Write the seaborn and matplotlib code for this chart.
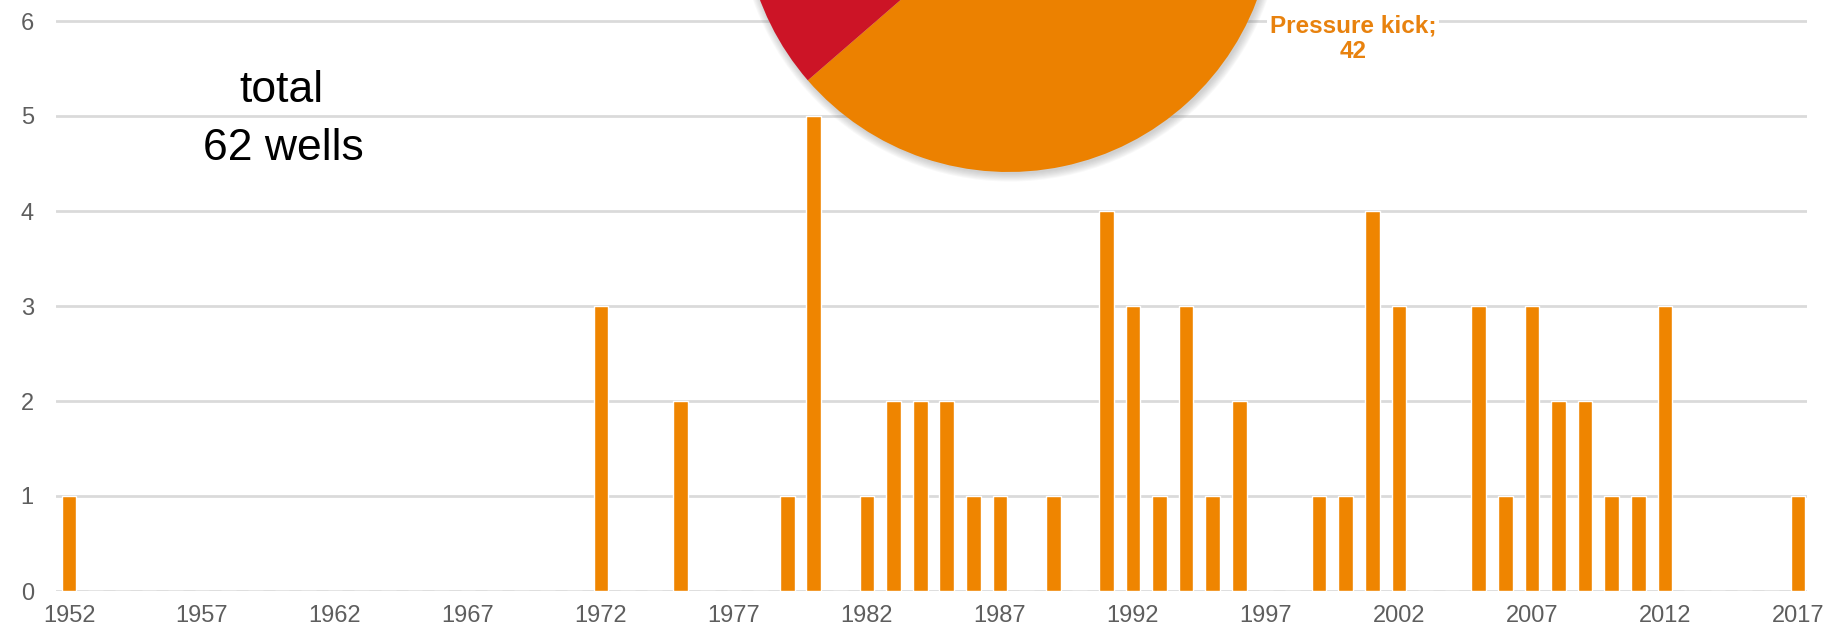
import pandas as pd
import seaborn as sns
import numpy as np
import matplotlib.pyplot as plt
from matplotlib.patches import Circle

# wells per year (years without events are zero)
years = [1952, 1972, 1975, 1979, 1980, 1982, 1983, 1984, 1985, 1986, 1987, 1989,
         1991, 1992, 1993, 1994, 1995, 1996, 1999, 2000, 2001, 2002,
         2005, 2006, 2007, 2008, 2009, 2010, 2011, 2012, 2017]
wells = [1, 3, 2, 1, 5, 1, 2, 2, 2, 1, 1, 1,
         4, 3, 1, 3, 1, 2, 1, 1, 4, 3,
         3, 1, 3, 2, 2, 1, 1, 3, 1]
all_years = list(range(1952, 2018))

# cause split shown in the pie
causes = ['Pressure kick', 'Other']
cause_counts = [42, 20]

sns.set_theme(style='white')
plt.rcParams['font.family'] = ['Liberation Sans', 'DejaVu Sans']

df = (pd.DataFrame({'year': years, 'wells': wells})
      .set_index('year').reindex(all_years, fill_value=0).reset_index())

W, H = 1836, 642
fig = plt.figure(figsize=(W / 100, H / 100), dpi=100)
ax = fig.add_axes([56 / W, 51 / H, (1807 - 56) / W, 574.75 / H])

sns.barplot(data=df, x='year', y='wells', order=all_years, color='#EF8500',
            saturation=1, width=0.55, ax=ax)
ax.set_xlim(-0.49, len(all_years) - 1 + 0.34)
ax.set_ylim(0, 6.05)
ax.set_yticks(range(0, 7))
ax.set_xticks(range(0, len(all_years), 5))
ax.set_xticklabels(all_years[::5])
ax.yaxis.grid(True, color='#DADADA', lw=2)
ax.set_axisbelow(True)
for s in ax.spines.values():
    s.set_visible(False)
ax.tick_params(axis='both', length=0, labelsize=17, labelcolor='#5E5E5E')
ax.tick_params(axis='y', pad=16)
ax.tick_params(axis='x', pad=10)
ax.set_xlabel('')
ax.set_ylabel('')

total = sum(wells)
fig.text(281 / W, 1 - 102 / H, 'total', ha='center', va='baseline',
         fontsize=32, color='black')
fig.text(283 / W, 1 - 160 / H, f'{total} wells', ha='center', va='baseline',
         fontsize=32, color='black')

# pie, mostly above the top of the figure
cx, cy, r = 1008.5, -93.5, 265.5
ext = 1.06
pax = fig.add_axes([(cx - r * ext) / W, (H - cy - r * ext) / H,
                    2 * r * ext / W, 2 * r * ext / H])
pax.set_xlim(-ext, ext)
pax.set_ylim(-ext, ext)
pax.axis('off')
for i in range(8):
    pax.add_patch(Circle((0.006, -0.008), 1.0 + 0.004 * i, color='#808080',
                         alpha=0.05, lw=0))
pax.pie(cause_counts, colors=['#EC8100', '#CC1426'], startangle=220.9,
        counterclock=True, radius=1.0, wedgeprops=dict(lw=0))
pax.set_xlim(-ext, ext)
pax.set_ylim(-ext, ext)

fig.text(1353 / W, 1 - 39 / H, f'{causes[0]};\n{cause_counts[0]}', ha='center',
         va='center', fontsize=17.5, fontweight='bold', color='#E8820E',
         linespacing=1.15,
         bbox=dict(boxstyle='square,pad=0.1', fc='white', ec='none'))

fig.savefig('out.png', dpi=100)
